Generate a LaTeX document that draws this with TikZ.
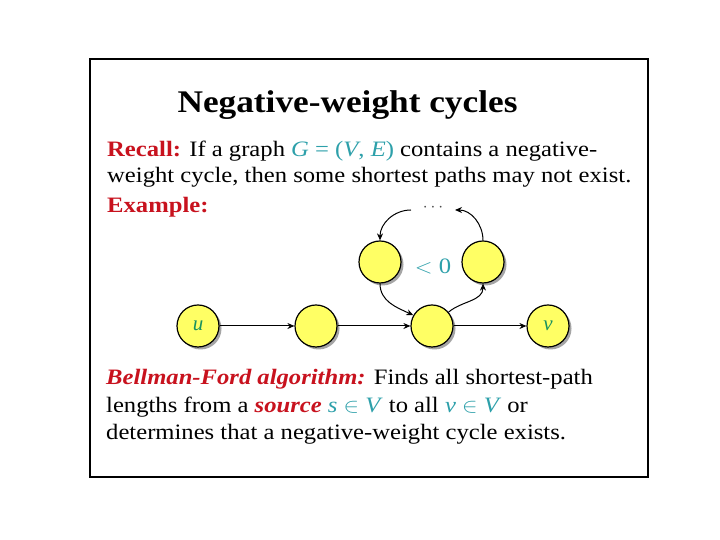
\documentclass[tikz,border=0pt]{standalone}
\usepackage{fontspec}
\setmainfont{Liberation Serif}
\usetikzlibrary{arrows.meta,shadows}
\definecolor{redc}{RGB}{200,18,30}
\definecolor{tealc}{RGB}{45,160,170}
\definecolor{greenc}{RGB}{25,145,95}
\definecolor{yel}{RGB}{255,255,100}
\newcommand{\sx}[1]{\scalebox{1.12}[1]{#1}}
\begin{document}
\begin{tikzpicture}[x=1pt,y=1pt,
  vtx/.style={circle,draw=black,line width=1.2pt,fill=yel,minimum size=42pt,inner sep=0pt,
    drop shadow={shadow xshift=2.5pt,shadow yshift=-2.5pt,opacity=0.5,fill=black!70}},
  txt/.style={anchor=base west,inner sep=0pt,font=\fontsize{22}{26}\selectfont},
  arr/.style={-{Stealth[length=7pt,width=6pt]},line width=1pt},
]
\useasboundingbox (0,0) rectangle (720,540);
\fill[white] (0,0) rectangle (720,540);
\draw[line width=2.4pt] (90,63) rectangle (648,481);

\node[anchor=base,inner sep=0pt,font=\fontsize{31.5}{36}\selectfont\bfseries] (title) at (347.5,427) {\sx{Negative-weight cycles}};

\node[txt] (l1) at (107,383) {\sx{\textcolor{redc}{\textbf{Recall:}} If a graph \textcolor{tealc}{\textit{G} = (\textit{V}, \textit{E})} contains a negative-}};
\node[txt] (l2) at (107,357) {\sx{weight cycle, then some shortest paths may not exist.}};
\node[txt] (l3) at (107,327) {\sx{\textcolor{redc}{\textbf{Example:}}}};

\node[vtx] (u) at (198,214) {\fontsize{21}{24}\selectfont\textcolor{greenc}{\textit{u}}};
\node[vtx] (n2) at (316,214) {};
\node[vtx] (n3) at (432,214) {};
\node[vtx] (v) at (548,214) {\fontsize{21}{24}\selectfont\textcolor{greenc}{\textit{v}}};
\node[vtx] (a) at (380,278) {};
\node[vtx] (b) at (483,278) {};

\node[inner sep=0pt,font=\fontsize{22}{26}\selectfont,text=tealc] (neg) at (433,274) {\sx{$<$ 0}};
\node[inner sep=1pt,text=black!70,font=\fontsize{16}{18}\selectfont] (dots) at (433,332) {$\cdots$};
\coordinate (dl) at (411,330);
\coordinate (dr) at (455,330);

\draw[arr] (u) -- (n2);
\draw[arr] (n2) -- (n3);
\draw[arr] (n3) -- (v);
\draw[arr] (a.south) to[out=-90,in=155] (n3.150);
\draw[arr] (n3.40) to[out=40,in=-90] (b.south);
\draw[arr] (b.north) to[out=90,in=0] (dr);
\draw[arr] (dl) to[out=180,in=90] (a.north);

\node[txt] (b1) at (106,155) {\sx{\textcolor{redc}{\textbf{\textit{Bellman-Ford algorithm:}}} Finds all shortest-path}};
\node[txt] (b2) at (106,127) {\sx{lengths from a \textcolor{redc}{\textbf{\textit{source}}} \textcolor{tealc}{\textit{s} $\in$ \textit{V}} to all \textcolor{tealc}{\textit{v} $\in$ \textit{V}} or}};
\node[txt] (b3) at (106,100) {\sx{determines that a negative-weight cycle exists.}};
\end{tikzpicture}
\end{document}
